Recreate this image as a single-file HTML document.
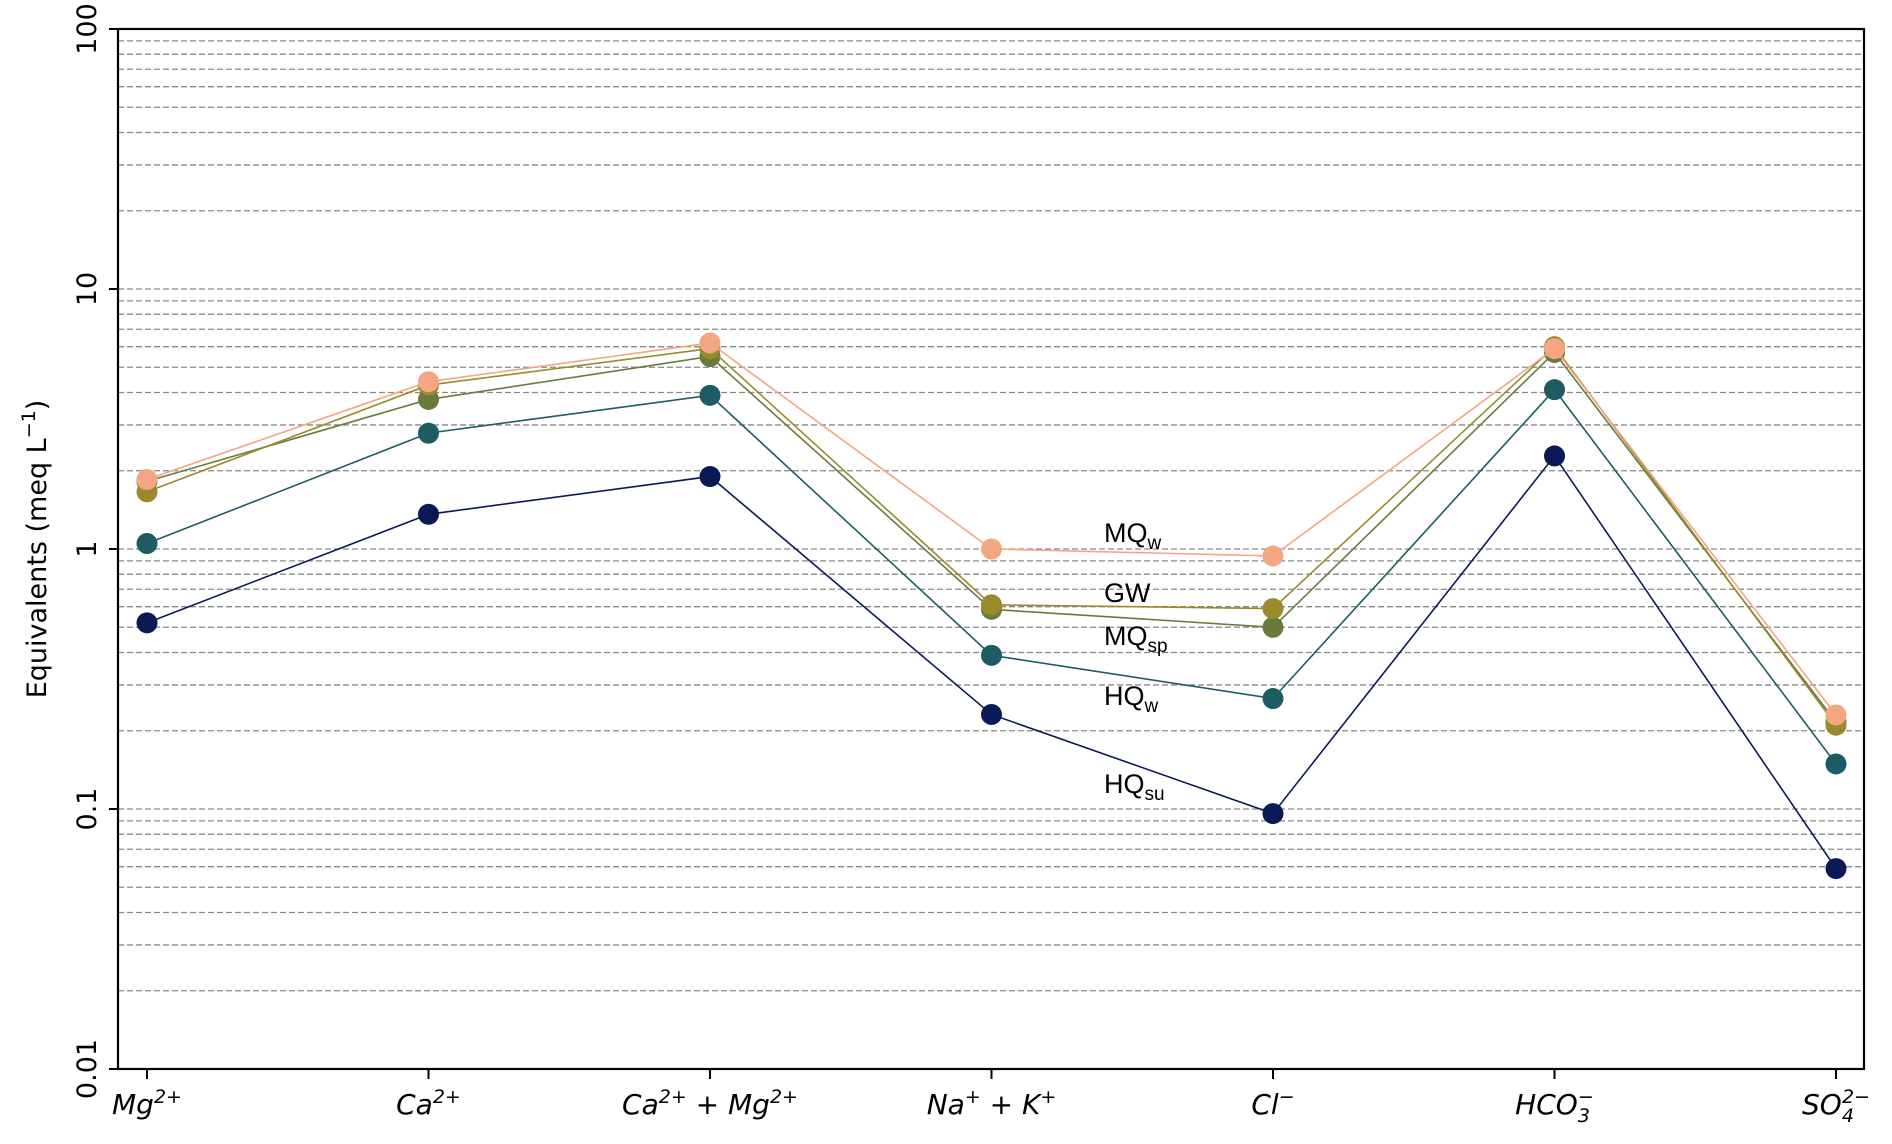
<!DOCTYPE html>
<html><head><meta charset="utf-8"><style>
html,body{margin:0;padding:0;background:#fff;}
svg{display:block;}
text{font-family:"DejaVu Sans","Liberation Sans",sans-serif;}
.lbl{font-family:"Liberation Sans",sans-serif;}
</style></head><body>
<svg id="chart" width="1892" height="1144" viewBox="0 0 1892 1144" xmlns="http://www.w3.org/2000/svg">
<g id="grid"></g>
<g id="series"></g>
<g id="axes"></g>
<g id="labels">
<text class="lbl" x="1104" y="542" font-size="27">MQ<tspan font-size="19" dy="7">w</tspan></text>
<text class="lbl" x="1104" y="602" font-size="27">GW</text>
<text class="lbl" x="1104" y="645" font-size="27">MQ<tspan font-size="19" dy="7">sp</tspan></text>
<text class="lbl" x="1104" y="705" font-size="27">HQ<tspan font-size="19" dy="7">w</tspan></text>
<text class="lbl" x="1104" y="793" font-size="27">HQ<tspan font-size="19" dy="7">su</tspan></text>
</g>
</svg>
<script>
const categories = ["Mg2+","Ca2+","Ca2++Mg2+","Na++K+","Cl-","HCO3-","SO42-"];
const seriesNames = ["MQw","GW","MQsp","HQw","HQsu"];
const mqw  = [1.85, 4.4, 6.2, 1.0, 0.94, 5.9, 0.23];
const gw   = [1.66, 4.27, 5.9, 0.61, 0.59, 6.0, 0.21];
const mqsp = [1.82, 3.76, 5.5, 0.586, 0.50, 5.7, 0.216];
const hqw  = [1.05, 2.79, 3.9, 0.39, 0.266, 4.1, 0.149];
const hqsu = [0.52, 1.36, 1.9, 0.231, 0.096, 2.28, 0.059];
const yTickLabels = ["0.01","0.1","1","10","100"];
const yTickValues = [0.01,0.1,1,10,100];

const L=118,R=1864,T=29,B=1069,NS="http://www.w3.org/2000/svg";
const yMin=-2,yMax=2;
function y(v){return B-(Math.log10(v)-yMin)/(yMax-yMin)*(B-T);}
function x(i){return 147+i*(1836-147)/(categories.length-1);}
function mk(tag,attrs,parent){const e=document.createElementNS(NS,tag);for(const k in attrs)e.setAttribute(k,attrs[k]);parent.appendChild(e);return e;}

const grid=document.getElementById('grid');
for(let d=-2;d<2;d++){for(let m=1;m<=9;m++){const v=m*Math.pow(10,d);if(v<=0.01)continue;
 const ln=mk('line',{x1:L,x2:R,y1:y(v),y2:y(v),stroke:'#888','stroke-width':1.3,'stroke-dasharray':'6,3'},grid);
 
 }}
const topLine=mk('line',{x1:L,x2:R,y1:y(100),y2:y(100),stroke:'#888','stroke-width':1.3,'stroke-dasharray':'6,3'},grid);



const colors={MQw:'#f4a582',GW:'#9a8a2c',MQsp:'#687b3c',HQw:'#1d5c63',HQsu:'#0b1a57'};
const data={MQw:mqw,GW:gw,MQsp:mqsp,HQw:hqw,HQsu:hqsu};
const sg=document.getElementById('series');
seriesNames.slice().reverse().forEach(n=>{
 const vals=data[n];const g=mk('g',{},sg);
 
 
 const pl=mk('polyline',{points:vals.map((v,i)=>x(i)+','+y(v)).join(' '),fill:'none',stroke:colors[n],'stroke-width':1.6},g);
 
 
 vals.forEach((v,i)=>{const c=mk('circle',{cx:x(i),cy:y(v),r:10.5,fill:colors[n]},g);
  
  });
});

const ax=document.getElementById('axes');
const fr=mk('rect',{x:L,y:T,width:R-L,height:B-T,fill:'none',stroke:'#000','stroke-width':2.2},ax);


yTickValues.forEach((v,i)=>{
 const t=mk('line',{x1:L-9,x2:L,y1:y(v),y2:y(v),stroke:'#000','stroke-width':2},ax);
 
 
 const tx=mk('text',{x:0,y:0,'font-size':27,'text-anchor':'middle',transform:`translate(96,${y(v)}) rotate(-90)`},ax);
 tx.textContent=yTickLabels[i];
 
 
});
const catHtml=[
 'Mg<tspan dy="-11" font-size="19">2+</tspan>',
 'Ca<tspan dy="-11" font-size="19">2+</tspan>',
 'Ca<tspan dy="-11" font-size="19">2+</tspan><tspan dy="11"> + Mg</tspan><tspan dy="-11" font-size="19">2+</tspan>',
 'Na<tspan dy="-11" font-size="19">+</tspan><tspan dy="11"> + K</tspan><tspan dy="-11" font-size="19">+</tspan>',
 'Cl<tspan dy="-11" font-size="19">−</tspan>',
 'HCO<tspan dy="8" font-size="19">3</tspan><tspan dx="-12" dy="-19" font-size="19">−</tspan>',
 'SO<tspan dy="8" font-size="19">4</tspan><tspan dx="-12" dy="-19" font-size="19">2−</tspan>'];
categories.forEach((c,i)=>{
 const t=mk('line',{x1:x(i),x2:x(i),y1:B,y2:B+10,stroke:'#000','stroke-width':2},ax);
 
 
 const tx=mk('text',{x:x(i),y:1114,'font-size':28,'font-style':'italic','text-anchor':'middle'},ax);
 tx.innerHTML=catHtml[i];
 
 
});
const yl=mk('text',{x:0,y:0,'font-size':27,'text-anchor':'middle',transform:`translate(46,${(T+B)/2}) rotate(-90)`},ax);
yl.innerHTML='Equivalents (meq L<tspan dy="-11" font-size="19">−1</tspan><tspan dy="11">)</tspan>';


</script>
</body></html>
